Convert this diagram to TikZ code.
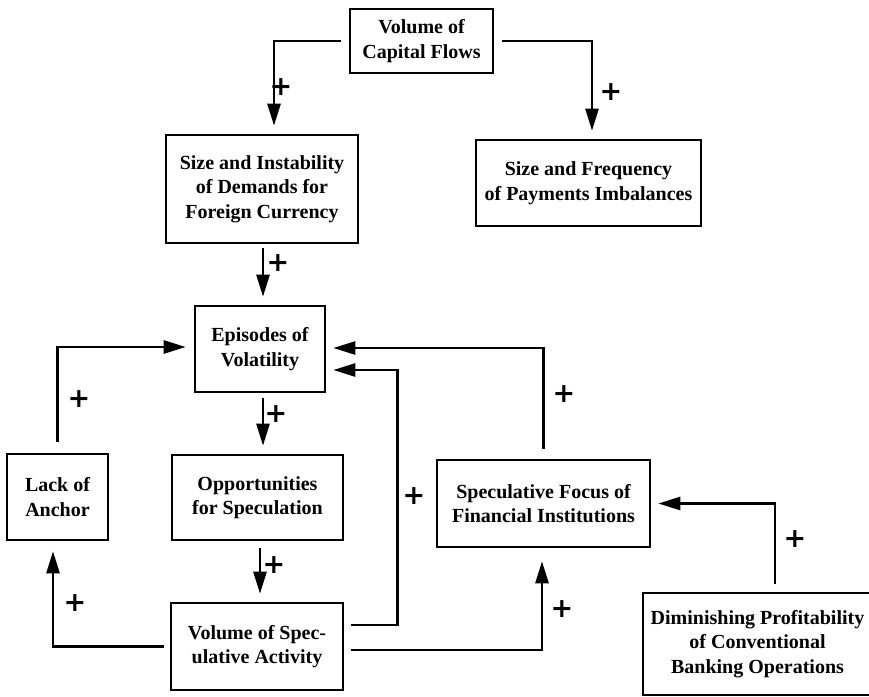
\documentclass[tikz,border=0pt]{standalone}
\usepackage{fontspec}
\setmainfont{Liberation Serif}
\newfontfamily\plusfont{DejaVu Sans}
\usetikzlibrary{arrows.meta}
\begin{document}
\begin{tikzpicture}[x=1pt,y=-1pt,
  box/.style={draw,line width=2.6pt,rectangle,align=center,inner sep=0pt,
    font=\fontsize{20}{24.5}\selectfont\bfseries},
  arr/.style={line width=2.6pt,-{Triangle[length=22pt,width=13pt]},shorten >=8pt,shorten <=8pt},
  plus/.style={font=\fontsize{27}{27}\selectfont\plusfont\bfseries,inner sep=0pt}]
\useasboundingbox (0,0) rectangle (869,696);
\node[box,minimum width=143pt,minimum height=64pt] (cap) at (421.5,41) {Volume of\\Capital Flows};
\node[box,minimum width=192pt,minimum height=108pt] (inst) at (262,189) {Size and Instability\\of Demands for\\Foreign Currency};
\node[box,minimum width=225pt,minimum height=86pt] (freq) at (588.5,183) {Size and Frequency\\of Payments Imbalances};
\node[box,minimum width=130pt,minimum height=86pt] (epi) at (260,349) {Episodes of\\Volatility};
\node[box,minimum width=101pt,minimum height=86pt] (lack) at (57.5,497) {Lack of\\Anchor};
\node[box,minimum width=171pt,minimum height=85pt] (opp) at (257.5,497.5) {Opportunities\\for Speculation};
\node[box,minimum width=172pt,minimum height=87pt] (vol) at (257,646.5) {Volume of Spec-\\ulative Activity};
\node[box,minimum width=213pt,minimum height=87pt] (spec) at (543.5,503.5) {Speculative Focus of\\Financial Institutions};
\node[box,minimum width=229pt,minimum height=102pt] (dim) at (757.5,644) {Diminishing Profitability\\of Conventional\\Banking Operations};

\draw[arr] (cap.west) -| ([xshift=12pt]inst.north);
\draw[arr] (cap.east) -| ([xshift=3.5pt]freq.north);
\draw[arr,shorten <=4pt] ([xshift=1pt]inst.south) -- ([xshift=1pt]inst.south |- epi.north);
\draw[arr,shorten <=5pt] ([xshift=3pt]epi.south) -- ([xshift=3pt]epi.south |- opp.north);
\draw[arr,shorten <=7pt] ([xshift=2.5pt]opp.south) -- ([xshift=2.5pt]opp.south |- vol.north);
\draw[arr,shorten <=11pt] (lack.north) |- ([yshift=2pt]epi.west);
\draw[arr,shorten <=6pt,shorten >=10pt] (vol.west) -| ([xshift=-4.5pt]lack.south);
\draw[arr,shorten <=7pt,shorten >=7pt] ([yshift=21.5pt]vol.east) -- ++(53,0) |- ([yshift=-21pt]epi.east);
\draw[arr,shorten <=7pt,shorten >=13pt] ([yshift=-3.5pt]vol.east) -| ([xshift=-1.5pt]spec.south);
\draw[arr,shorten <=10pt,shorten >=7pt] (spec.north) |- ([yshift=1pt]epi.east);
\draw[arr,shorten <=8pt,shorten >=7pt] ([xshift=17.5pt]dim.north) |- (spec.east);

\node[plus] (p1) at (281,87) {+};
\node[plus] (p2) at (611,92) {+};
\node[plus] (p3) at (278,263) {+};
\node[plus] (p4) at (79,399) {+};
\node[plus] (p5) at (276,414) {+};
\node[plus] (p6) at (274,565) {+};
\node[plus] (p7) at (75,603) {+};
\node[plus] (p8) at (414,496) {+};
\node[plus] (p9) at (562,609) {+};
\node[plus] (p10) at (564,394) {+};
\node[plus] (p11) at (795,539) {+};
\end{tikzpicture}
\end{document}
